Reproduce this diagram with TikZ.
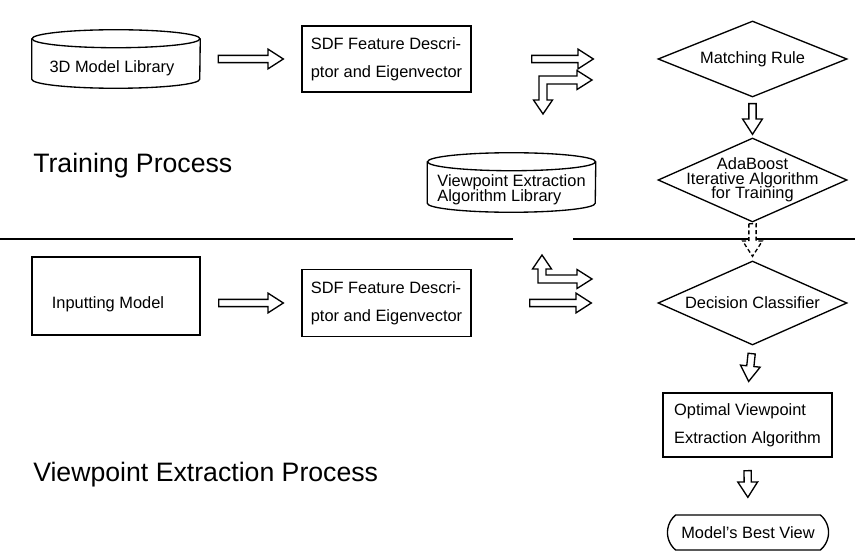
\documentclass[tikz,border=0pt]{standalone}
\usepackage{fontspec}
\setmainfont{Liberation Sans}
\usetikzlibrary{calc,positioning,shapes.geometric,shapes.misc}

\tikzset{
  hollow/.style={draw, fill=white, line width=1pt, line join=miter},
  store/.style={minimum width=126pt, minimum height=43.5pt, inner sep=0pt},
  procbox/.style={draw, line width=1pt, minimum width=126.75pt, minimum height=49.5pt,
    align=left, font=\fontsize{12.3}{21}\selectfont},
  decision/.style={diamond, draw, line width=1pt, minimum width=141.75pt,
    minimum height=63pt, inner sep=0pt},
  terminal/.style={rounded rectangle, rounded rectangle arc length=100, draw,
    line width=1pt, minimum width=127.5pt, minimum height=26.25pt},
  procname/.style={font=\fontsize{20}{24}\selectfont, inner sep=0pt, anchor=base west}
}

% cylinder round a store node
\newcommand{\storeoutline}[1]{%
  \draw[line width=1pt] ([yshift=-6.75pt]#1.north west) -- ([yshift=6.75pt]#1.south west)
    arc[start angle=180, end angle=360, x radius=63pt, y radius=6.75pt]
    -- ([yshift=-6.75pt]#1.north east);
  \draw[line width=1pt] ([yshift=-6.75pt]#1.north) ellipse [x radius=63pt, y radius=6.75pt];}

% hollow block arrow: [opts]{gap at start}{gap at end}{from}{to}
\newcommand{\blockarrow}[5][]{%
  \draw[hollow, #1] let \p1=($#5-#4$), \n1={atan2(\y1,\x1)}, \n2={veclen(\x1,\y1)} in
    [shift={#4}, rotate=\n1]
    (#2,-2.7pt) -- ({\n2*1pt-#3-11.5pt},-2.7pt) -- ({\n2*1pt-#3-11.5pt},-7.4pt)
    -- ({\n2*1pt-#3},0pt) -- ({\n2*1pt-#3-11.5pt},7.4pt) -- ({\n2*1pt-#3-11.5pt},2.7pt)
    -- (#2,2.7pt) -- cycle;}

\begin{document}
\begin{tikzpicture}[x=0.75pt, y=-0.75pt,
    every node/.style={font=\fontsize{12.3}{14.8}\selectfont}]
  \useasboundingbox (0,0) rectangle (855,552);
  %divider
  \draw[line width=1pt] (0,239) -- (513,239);
  \draw[line width=1pt] (573,239) -- (855,239);

  %training
  \node[store, label={[xshift=-3pt, yshift=-6.75pt]center:3D Model Library}] (lib) at (116,59) {};
  \storeoutline{lib}
  \node[procbox] (sdf1) at (386.5,59) {SDF Feature Descri-\\ptor and Eigenvector};
  \node[decision, minimum height=57pt, label={center:Matching Rule}] (mr) at (752.5,59) {};
  \node[decision, label={[align=center, font={\fontsize{12.3}{10.9}\selectfont\lineskiplimit=-10pt}]center:{AdaBoost\\Iterative Algorithm\\for Training}}] (ada) at (752.5,180) {};
  \node[store, minimum height=44.25pt, label={[align=left, font={\fontsize{12.3}{11.25}\selectfont\lineskiplimit=-10pt}, yshift=-5.25pt]center:{Viewpoint Extraction\\Algorithm Library}}] (vlib) at (511.5,182.5) {};
  \storeoutline{vlib}
  \node[procname] (train) at (33,173) {Training Process};

  %extraction
  \node[procbox, minimum width=126pt, minimum height=58.5pt, label={[xshift=-6pt, yshift=-6pt]center:Inputting Model}] (inp) at (116,296) {};
  \node[procbox, minimum height=50.25pt] (sdf2) at (386.5,303) {SDF Feature Descri-\\ptor and Eigenvector};
  \node[decision, label={center:Decision Classifier}] (dc) at (752.5,303) {};
  \node[procbox, minimum height=48pt] (opt) at (747.5,425) {Optimal Viewpoint\\Extraction Algorithm};
  \node[terminal] (best) at (748,532.5) {Model's Best View};
  \node[procname] (extract) at (33,481) {Viewpoint Extraction Process};

  %arrows
  \blockarrow{13.5pt}{13.5pt}{(lib.east)}{(sdf1.west)}
  \blockarrow{45pt}{48pt}{(sdf1.east)}{(mr.west)}
  \blockarrow{4.5pt}{2.25pt}{(mr.south)}{(ada.north)}
  \blockarrow[densely dashed]{0.75pt}{3pt}{(ada.south)}{(dc.north)}
  \blockarrow{13.5pt}{13.5pt}{(inp.east |- sdf2.west)}{(sdf2.west)}
  \blockarrow{43.5pt}{49.5pt}{(sdf2.east)}{(dc.west)}
  \blockarrow{6pt}{8.25pt}{(dc.south)}{(opt.north)}
  \blockarrow{9.75pt}{12.75pt}{(opt.south)}{(best.north)}
  %bent arrows
  \draw[hollow] (592,80) -- (577,70.5) -- (577,76) -- (539,76) -- (539,100) -- (533.5,100)
    -- (543,114) -- (552.5,100) -- (547,100) -- (547,84) -- (577,84) -- (577,89.5) -- cycle;
  \draw[hollow] (542,255) -- (551.5,269) -- (546,269) -- (546,275) -- (577,275) -- (577,269.5)
    -- (592,279) -- (577,288.5) -- (577,283) -- (538,283) -- (538,269) -- (532.5,269) -- cycle;
\end{tikzpicture}
\end{document}
